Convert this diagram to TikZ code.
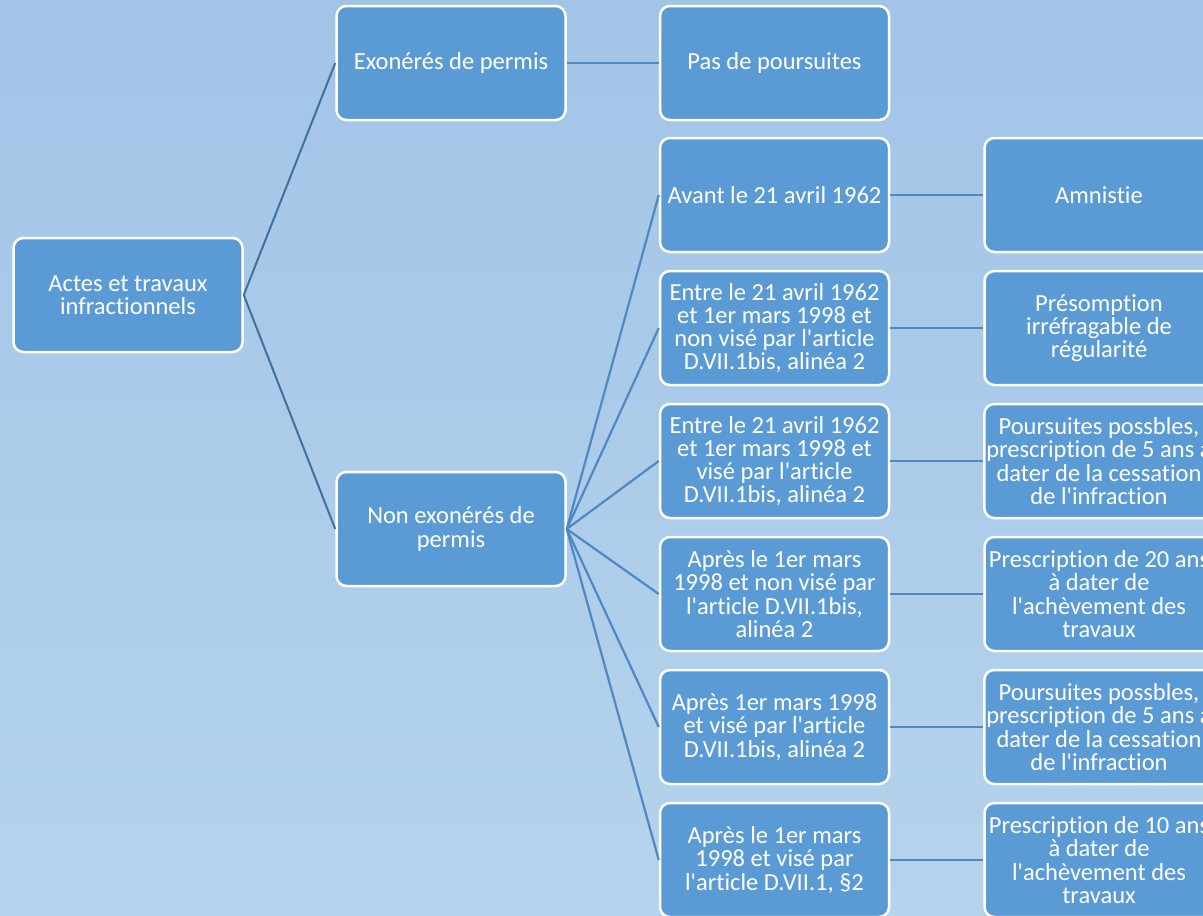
\documentclass[tikz,border=0pt]{standalone}
\usepackage{fontspec}
\setmainfont{Carlito}[Ligatures=NoCommon]
\definecolor{boxfill}{HTML}{5B9BD5}
\definecolor{linkdark}{HTML}{41719C}
\definecolor{linkmid}{HTML}{4F88C3}
\definecolor{bgtop}{HTML}{A2C4E7}
\definecolor{bgbot}{HTML}{B5D3EC}
\newcommand{\ap}{\textquotesingle}
\tikzset{
  box/.style={draw=white, line width=2.5pt, fill=boxfill, rounded corners=10pt,
    minimum width=229pt, minimum height=114pt, text=white, align=center,
    font=\fontsize{24.5pt}{23.2pt}\selectfont, inner sep=2pt},
  rootlink/.style={draw=linkdark, line width=2pt},
  sublink/.style={draw=linkmid, line width=2.2pt}
}
\begin{document}
\begin{tikzpicture}[x=1pt,y=-1pt]
\useasboundingbox (0,0) rectangle (1203,916);
\shade[top color=bgtop, bottom color=bgbot] (0,0) rectangle (1203,916);
\clip (0,0) rectangle (1203,916);
% nodes
\node[box] (root) at (128,295) {Actes et travaux\\infractionnels};
\node[box] (exo) at (451,63) {Exonérés de permis};
\node[box] (pas) at (774.5,63) {Pas de poursuites};
\node[box] (non) at (451,529) {Non exonérés de\\permis};
\node[box] (c1) at (774.5,195) {Avant le 21 avril 1962};
\node[box] (c2) at (774.5,328) {Entre le 21 avril 1962\\et 1er mars 1998 et\\non visé par l\ap article\\D.VII.1bis, alinéa 2};
\node[box] (c3) at (774.5,461) {Entre le 21 avril 1962\\et 1er mars 1998 et\\visé par l\ap article\\D.VII.1bis, alinéa 2};
\node[box] (c4) at (774.5,594) {Après le 1er mars\\1998 et non visé par\\l\ap article D.VII.1bis,\\alinéa 2};
\node[box] (c5) at (774.5,727) {Après 1er mars 1998\\et visé par l\ap article\\D.VII.1bis, alinéa 2};
\node[box] (c6) at (774.5,860) {Après le 1er mars\\1998 et visé par\\l\ap article D.VII.1, §2};
\node[box] (r1) at (1099,195) {Amnistie};
\node[box] (r2) at (1099,328) {Présomption\\irréfragable de\\régularité};
\node[box] (r3) at (1099,461) {Poursuites possbles,\\prescription de 5 ans à\\dater de la cessation\\de l\ap infraction};
\node[box] (r4) at (1099,594) {Prescription de 20 ans\\à dater de\\l\ap achèvement des\\travaux};
\node[box] (r5) at (1099,727) {Poursuites possbles,\\prescription de 5 ans à\\dater de la cessation\\de l\ap infraction};
\node[box] (r6) at (1099,860) {Prescription de 10 ans\\à dater de\\l\ap achèvement des\\travaux};
% connectors
\draw[rootlink] (root.east) -- (exo.west);
\draw[rootlink] (root.east) -- (non.west);
\draw[sublink] (exo.east) -- (pas.west);
\foreach \i in {1,...,6} {
  \draw[sublink] (non.east) -- (c\i.west);
  \draw[sublink] (c\i.east) -- (r\i.west);
}
\end{tikzpicture}
\end{document}
